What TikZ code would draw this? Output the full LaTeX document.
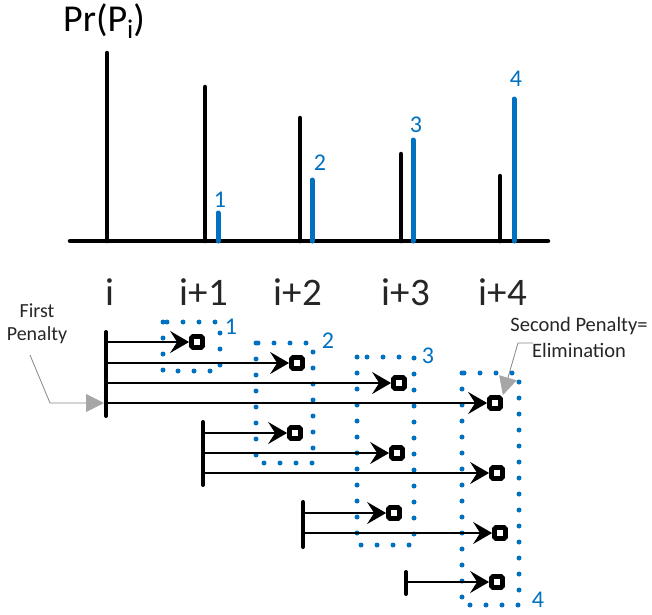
\documentclass[tikz,border=0pt]{standalone}
\usepackage{fontspec}
\setmainfont{Carlito}
\usetikzlibrary{arrows.meta}
\definecolor{penblue}{RGB}{0,112,192}
\definecolor{callgray}{RGB}{166,166,166}
\definecolor{inkgray}{RGB}{38,38,38}

\begin{document}
\begin{tikzpicture}[x=1pt,y=-1pt,
    bar/.style={line width=4.5pt, line cap=round},
    bluebar/.style={bar, penblue, line width=5pt},
    stub/.style={line width=4pt, line cap=round},
    ray/.style={line width=1.6pt, -{Stealth[length=19pt,width=22pt,inset=7pt]}},
    sq/.style={draw, line width=4.8pt, rounded corners=1.5pt, minimum size=11pt, inner sep=0pt},
    dotbox/.style={penblue, line width=5pt, line cap=round, dash pattern=on 0pt off 16pt},
    num/.style={penblue, font=\fontsize{24}{24}\selectfont},
    tick/.style={inkgray, anchor=base, font=\fontsize{39}{39}\selectfont},
    note/.style={inkgray, align=center, font=\fontsize{20}{23}\selectfont},
    callout/.style={callgray!80!black, line width=0.8pt,
      -{Triangle[length=18pt,width=18pt,fill=callgray,color=callgray]}}]
    \useasboundingbox (0,0) rectangle (652,614);

    % Title
    \node[anchor=base west, inner sep=0pt, font=\fontsize{38}{38}\selectfont] (title) at (63,31)
        {Pr(P\raisebox{-7pt}{\fontsize{27}{27}\selectfont i})};

    % Bars
    \draw[bar] (70,241) -- (548,241);
    \foreach \x/\t in {107/53, 205/87, 300/118, 401/154, 500/176}
        \draw[bar] (\x,241) -- (\x,\t);
    \foreach \x/\t/\lx/\ly/\n in {218/213/220/200/1, 312/180/320/163/2, 413/140/416/125/3, 514/99/516/79/4} {
        \draw[bluebar] (\x,241) -- (\x,\t);
        \node[num] (top\n) at (\lx,\ly) {\n};
    }

    % Axis labels
    \foreach \x/\t in {110/i, 204/i+1, 298/i+2, 406/i+3, 503/i+4}
        \node[tick] at (\x,305) {\t};

    % Penalty boxes
    \draw[dotbox] (163,322) rectangle (220,371);
    \draw[dotbox] (256,343) rectangle (313,463);
    \draw[dotbox] (357,357) rectangle (414,545);
    \draw[dotbox] (462,373) rectangle (519,605);
    \node[num] (box1) at (231,327) {1};
    \node[num] (box2) at (328,341) {2};
    \node[num] (box3) at (428,356) {3};
    \node[num] (box4) at (538,600) {4};

    % Squares
    \node[sq] (s11) at (197,342) {};
    \node[sq] (s12) at (297,363) {};
    \node[sq] (s13) at (399,383) {};
    \node[sq] (s14) at (495,403) {};
    \node[sq] (s22) at (295,433) {};
    \node[sq] (s23) at (397,453) {};
    \node[sq] (s24) at (497,473) {};
    \node[sq] (s33) at (394,513) {};
    \node[sq] (s34) at (500,533) {};
    \node[sq] (s44) at (497,582) {};

    % Stubs
    \draw[stub] (106,332) -- (106,416);
    \draw[stub] (203,422) -- (203,485);
    \draw[stub] (303,502) -- (303,547);
    \draw[stub] (406,572) -- (406,594);
    \foreach \n/\y in {1/342, 2/363, 3/383, 4/403}
        \coordinate (a\n) at (106,\y);
    \foreach \n/\y in {2/433, 3/453, 4/473}
        \coordinate (b\n) at (203,\y);
    \coordinate (c3) at (303,513);
    \coordinate (c4) at (303,533);
    \coordinate (d4) at (406,582);

    % Rays
    \foreach \n in {1,2,3,4}
        \draw[ray] (a\n) -- (s1\n.west);
    \foreach \n in {2,3,4}
        \draw[ray] (b\n) -- (s2\n.west);
    \draw[ray] (c3) -- (s33.west);
    \draw[ray] (c4) -- (s34.west);
    \draw[ray] (d4) -- (s44.west);

    % Callouts
    \node[note] (fp) at (37,324) {First\\Penalty};
    \coordinate (fpfoot) at (30,355);
    \draw[callout, shorten >=2pt] (fpfoot) -- (50,403) -- (a4);

    \node[note, font=\fontsize{20.5}{26}\selectfont] (sp) at (579,337) {Second Penalty=\\Elimination};
    \coordinate (spfoot) at (533,343);
    \draw[callout] (spfoot) -- (518,343) -- (s14.north east);
\end{tikzpicture}
\end{document}
